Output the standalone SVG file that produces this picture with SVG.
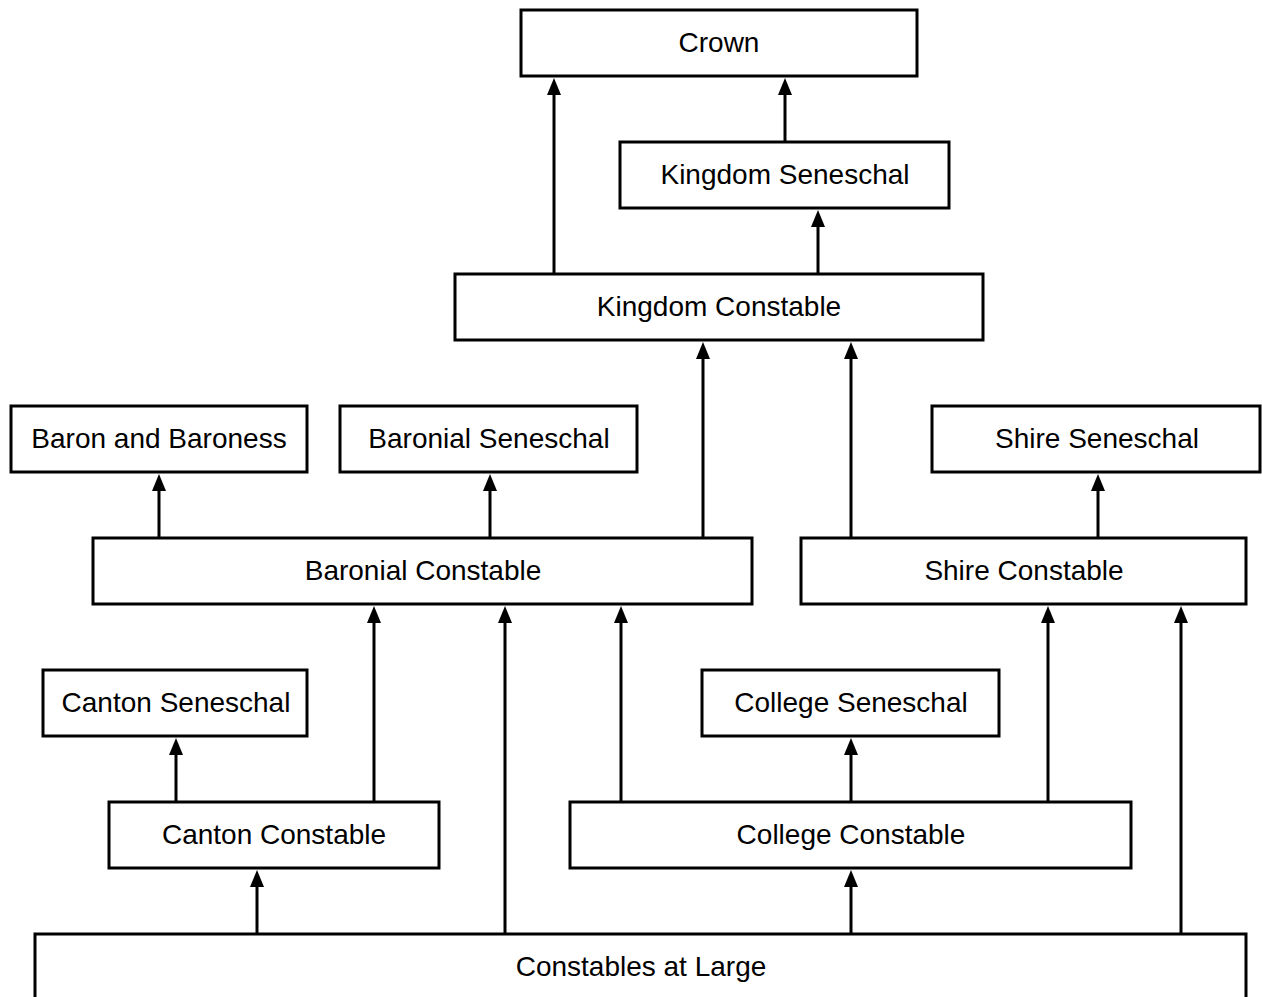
<svg xmlns="http://www.w3.org/2000/svg" width="1262" height="997" viewBox="0 0 1262 997">
<defs>
<style>
.box{fill:#fff;stroke:#000;stroke-width:3}
.lbl{font-family:"Liberation Sans",Arial,sans-serif;font-size:28px;fill:#000;text-anchor:middle;dominant-baseline:central}
.c{stroke:#000;stroke-width:3;fill:none;marker-end:url(#ah)}
</style>
<marker id="ah" markerUnits="userSpaceOnUse" markerWidth="18" markerHeight="16" viewBox="0 0 18 16" refX="6" refY="8" orient="auto">
<path d="M0,1 L17,8 L0,15 z" fill="#000"/>
</marker>
</defs>
<rect width="1262" height="997" fill="#fff"/>
<g id="connectors">
<path class="c" d="M554,274 V89"/>
<path class="c" d="M785,142 V89"/>
<path class="c" d="M818,274 V221"/>
<path class="c" d="M703,538 V353"/>
<path class="c" d="M851,538 V353"/>
<path class="c" d="M159,538 V485"/>
<path class="c" d="M490,538 V485"/>
<path class="c" d="M1098,538 V485"/>
<path class="c" d="M374,802 V617"/>
<path class="c" d="M505,934 V617"/>
<path class="c" d="M621,802 V617"/>
<path class="c" d="M1048,802 V617"/>
<path class="c" d="M1181,934 V617"/>
<path class="c" d="M176,802 V749"/>
<path class="c" d="M851,802 V749"/>
<path class="c" d="M257,934 V881"/>
<path class="c" d="M851,934 V881"/>
</g>
<g id="crown"><rect class="box" x="521" y="10" width="396" height="66"/><text class="lbl" x="719" y="42">Crown</text></g>
<g id="kingdom-seneschal"><rect class="box" x="620" y="142" width="329" height="66"/><text class="lbl" x="785" y="174">Kingdom Seneschal</text></g>
<g id="kingdom-constable"><rect class="box" x="455" y="274" width="528" height="66"/><text class="lbl" x="719" y="306">Kingdom Constable</text></g>
<g id="baron-baroness"><rect class="box" x="11" y="406" width="296" height="66"/><text class="lbl" x="159" y="438">Baron and Baroness</text></g>
<g id="baronial-seneschal"><rect class="box" x="340" y="406" width="297" height="66"/><text class="lbl" x="489" y="438">Baronial Seneschal</text></g>
<g id="shire-seneschal"><rect class="box" x="932" y="406" width="328" height="66"/><text class="lbl" x="1097" y="438">Shire Seneschal</text></g>
<g id="baronial-constable"><rect class="box" x="93" y="538" width="659" height="66"/><text class="lbl" x="423" y="570">Baronial Constable</text></g>
<g id="shire-constable"><rect class="box" x="801" y="538" width="445" height="66"/><text class="lbl" x="1024" y="570">Shire Constable</text></g>
<g id="canton-seneschal"><rect class="box" x="43" y="670" width="264" height="66"/><text class="lbl" x="176" y="702">Canton Seneschal</text></g>
<g id="college-seneschal"><rect class="box" x="702" y="670" width="297" height="66"/><text class="lbl" x="851" y="702">College Seneschal</text></g>
<g id="canton-constable"><rect class="box" x="109" y="802" width="330" height="66"/><text class="lbl" x="274" y="834">Canton Constable</text></g>
<g id="college-constable"><rect class="box" x="570" y="802" width="561" height="66"/><text class="lbl" x="851" y="834">College Constable</text></g>
<g id="constables-at-large"><rect class="box" x="35" y="934" width="1211" height="80"/><text class="lbl" x="641" y="966">Constables at Large</text></g>
</svg>
